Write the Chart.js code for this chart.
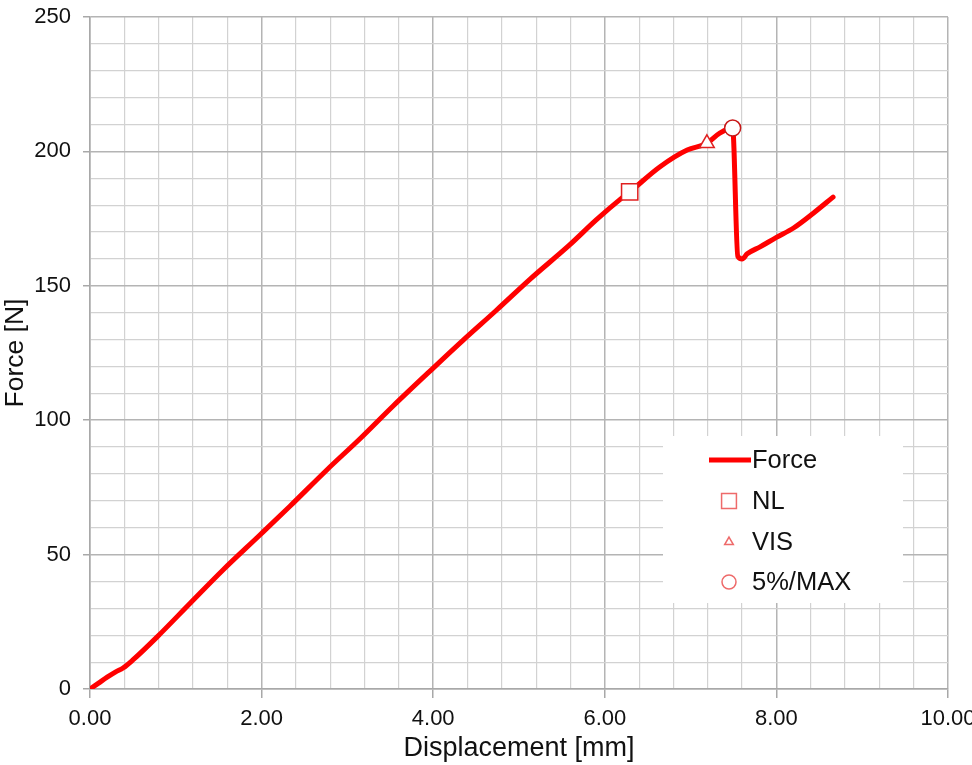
<!DOCTYPE html>
<html>
<head>
<meta charset="utf-8">
<script src="https://cdn.jsdelivr.net/npm/chart.js@4"></script>
<style>
  html, body { margin: 0; padding: 0; background: #fff; overflow: hidden; }
  #wrap { width: 972px; height: 765px; }
</style>
</head>
<body>
<div id="wrap"><canvas id="chart" width="972" height="765"></canvas></div>
<script>
// 数据：位移 / 力
const displacement = [0, 0.1, 0.2, 0.3, 0.385, 0.5, 0.78, 1.17, 1.55, 1.98, 2.33, 2.76, 3.15, 3.53, 4.0, 4.35, 4.74, 5.13, 5.59, 5.9, 6.2, 6.29, 6.64, 6.96, 7.15, 7.19, 7.34, 7.49, 7.55, 7.6, 7.66, 7.81, 8.0, 8.2, 8.43, 8.66];
const force =        [0, 2.2, 4.4, 6.4, 7.8, 10.8, 19.3, 32, 44.3, 57.3, 68, 81.5, 93.2, 105.2, 119.4, 129.8, 141, 152.5, 165.2, 174.5, 182.7, 184.9, 194.2, 200.5, 202.4, 203, 206.8, 208.7, 161, 160, 161.9, 164.5, 168, 171.5, 177, 183];

// 特征点
const nlPoint  = [6.29, 184.9];
const visPoint = [7.19, 203];
const maxPoint = [7.49, 208.7];

const legendLabels = ['Force', 'NL', 'VIS', '5%/MAX'];

// 坐标轴
const xMin = 0, xMax = 10, xStep = 0.4, xMajor = 2;
const yMin = 0, yMax = 250, yStep = 10, yMajor = 50;

const FONT = 'Liberation Sans, Arial, sans-serif';
const isMajor = (v, m) => Math.abs(v / m - Math.round(v / m)) < 1e-6;

const forceData = displacement.map((d, i) => ({ x: d, y: force[i] }));

// 图例（画在绘图区内部的白色框）
const insideLegend = {
  id: 'insideLegend',
  afterDraw(chart) {
    const ctx = chart.ctx;
    ctx.save();
    ctx.fillStyle = '#fff';
    ctx.fillRect(663, 436, 240, 167);

    ctx.font = '25.5px ' + FONT;
    ctx.fillStyle = '#111';
    ctx.textBaseline = 'middle';

    // Force 线
    ctx.strokeStyle = '#ff0000';
    ctx.lineWidth = 5;
    ctx.beginPath();
    ctx.moveTo(709, 460);
    ctx.lineTo(751, 460);
    ctx.stroke();
    ctx.fillText(legendLabels[0], 752, 461);

    const marks = [
      { style: 'rect', r: 10.5, y: 501 },
      { style: 'triangle', r: 5, y: 542 },
      { style: 'circle', r: 7, y: 582 }
    ];
    marks.forEach((m, i) => {
      ctx.fillStyle = '#fff';
      ctx.strokeStyle = '#ee6a6a';
      ctx.lineWidth = 1.5;
      Chart.helpers.drawPoint(ctx, { pointStyle: m.style, radius: m.r, rotation: 0, borderWidth: 1.5 }, 729, m.y);
      ctx.fillStyle = '#111';
      ctx.fillText(legendLabels[i + 1], 752, m.y + 1);
    });
    ctx.restore();
  }
};

new Chart(document.getElementById('chart'), {
  type: 'scatter',
  data: {
    datasets: [
      {
        label: 'Force',
        data: forceData,
        showLine: true,
        borderColor: '#ff0000',
        borderWidth: 5,
        pointRadius: 0,
        cubicInterpolationMode: 'monotone',
        borderJoinStyle: 'round',
        borderCapStyle: 'round',
        order: 2
      },
      {
        label: 'NL',
        data: [{ x: nlPoint[0], y: nlPoint[1] }],
        pointStyle: 'rect',
        pointRadius: 11.5,
        pointBackgroundColor: '#fff',
        pointBorderColor: '#e02020',
        pointBorderWidth: 1.5,
        order: 1
      },
      {
        label: 'VIS',
        data: [{ x: visPoint[0], y: visPoint[1] }],
        pointStyle: 'triangle',
        pointRadius: 8.5,
        pointBackgroundColor: '#fff',
        pointBorderColor: '#e02020',
        pointBorderWidth: 1.5,
        order: 1
      },
      {
        label: '5%/MAX',
        data: [{ x: maxPoint[0], y: maxPoint[1] }],
        pointStyle: 'circle',
        pointRadius: 8,
        pointBackgroundColor: '#fff',
        pointBorderColor: '#c81818',
        pointBorderWidth: 1.5,
        order: 1
      }
    ]
  },
  options: {
    responsive: false,
    animation: false,
    layout: { padding: { left: 0, top: 17, right: 24, bottom: 0 } },
    plugins: {
      legend: { display: false },
      tooltip: { enabled: false }
    },
    scales: {
      x: {
        type: 'linear',
        min: xMin,
        max: xMax,
        afterFit(scale) {
          scale.height = 76;
          scale.paddingRight = 0;
          scale.paddingLeft = 0;
        },
        border: { color: '#a8a8a8', width: 1.5 },
        grid: {
          color: c => isMajor(c.tick.value, xMajor) ? '#b4b4b4' : '#d2d2d2',
          lineWidth: c => isMajor(c.tick.value, xMajor) ? 1.5 : 1.2,
          tickColor: c => isMajor(c.tick.value, xMajor) ? '#a8a8a8' : 'rgba(0,0,0,0)',
          tickLength: 9
        },
        ticks: {
          stepSize: xStep,
          autoSkip: false,
          maxRotation: 0,
          padding: 8,
          color: '#111',
          font: { family: FONT, size: 22 },
          callback: v => isMajor(v, xMajor) ? v.toFixed(2) : ''
        },
        title: {
          display: true,
          text: 'Displacement [mm]',
          color: '#111',
          font: { family: FONT, size: 27 },
          padding: { top: 0, bottom: 0 }
        }
      },
      y: {
        type: 'linear',
        min: yMin,
        max: yMax,
        afterFit(scale) {
          scale.width = 90;
          scale.paddingTop = 0;
          scale.paddingBottom = 0;
        },
        border: { color: '#a8a8a8', width: 1.5 },
        grid: {
          color: c => isMajor(c.tick.value, yMajor) ? '#b4b4b4' : '#d2d2d2',
          lineWidth: c => isMajor(c.tick.value, yMajor) ? 1.5 : 1.2,
          tickColor: c => isMajor(c.tick.value, yMajor) ? '#a8a8a8' : 'rgba(0,0,0,0)',
          tickLength: 7
        },
        ticks: {
          stepSize: yStep,
          autoSkip: false,
          padding: 12,
          color: '#111',
          font: { family: FONT, size: 22 },
          callback: v => isMajor(v, yMajor) ? String(v) : ''
        },
        title: {
          display: true,
          text: 'Force [N]',
          color: '#111',
          font: { family: FONT, size: 26.5 },
          padding: { top: 0, bottom: 0 }
        }
      }
    }
  },
  plugins: [insideLegend]
});
</script>
</body>
</html>
